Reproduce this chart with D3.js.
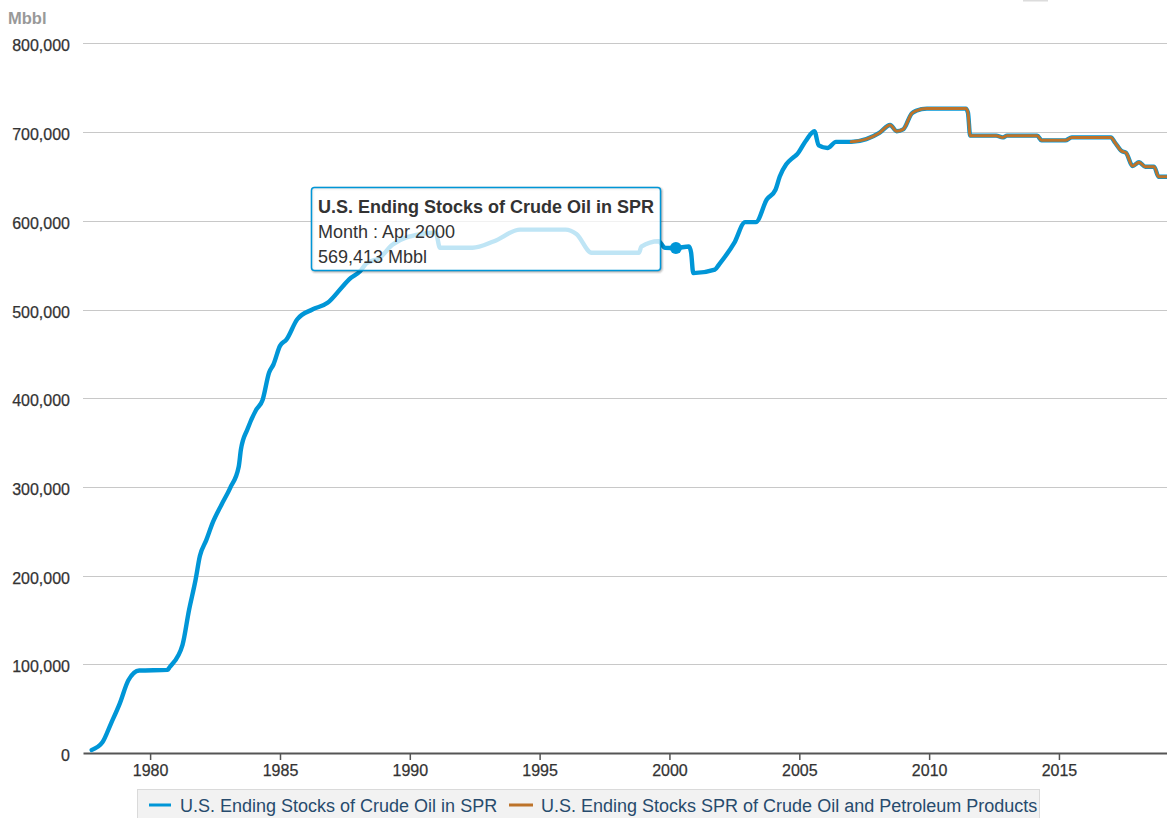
<!DOCTYPE html>
<html><head><meta charset="utf-8">
<script src="https://cdn.jsdelivr.net/npm/d3@7"></script>
<style>
body{margin:0;background:#fff;}
svg{display:block;font-family:Arial,"Liberation Sans",sans-serif;}
</style>
</head><body><svg id="chart" width="1167" height="818"></svg>
<script>
// ---- data, values in Mbbl ----
const crudeMonths = ["1977-10","1978-03","1978-07","1978-11","1979-03","1979-08","1980-09","1980-10","1981-04","1981-07","1981-10","1981-12","1982-03","1982-06","1982-10","1983-02","1983-06","1983-07","1983-10","1984-02","1984-05","1984-08","1984-10","1985-01","1985-04","1985-09","1986-04","1986-11","1987-06","1987-09","1988-02","1988-05","1988-11","1989-05","1990-06","1991-01","1991-03","1992-06","1993-04","1994-04","1996-01","1996-06","1997-01","1998-11","1998-12","1999-08","1999-11","2000-04","2000-10","2000-11","2000-12","2001-10","2001-12","2002-07","2002-12","2003-05","2003-10","2004-02","2004-04","2004-07","2004-10","2004-12","2005-04","2005-08","2005-10","2006-02","2006-06","2007-01","2007-08","2008-02","2008-07","2008-10","2009-01","2009-05","2009-07","2009-12","2011-06","2011-07","2011-08","2012-08","2012-11","2013-01","2014-03","2014-05","2015-04","2015-07","2017-01","2017-03","2017-06","2017-08","2017-11","2018-02","2018-05","2018-09","2018-11","2019-03"];
const crudeValues = [3400,12000,33500,56000,82000,93000,93700,96700,122000,161000,195000,222000,240000,260000,280000,299000,323000,342000,365000,387000,398000,429000,438000,459000,466000,489000,500000,507500,526000,534000,543000,552000,558000,573000,585000,586600,569600,569600,577000,590000,590000,585000,564000,564000,571000,577000,569600,569413,571000,564000,541000,545000,551000,575000,598500,598500,624000,635000,650000,663700,671000,675000,690000,701000,685000,682000,689000,689000,692000,699000,708000,701000,703000,721000,724000,726500,726500,722000,696000,696000,694000,696000,696000,690700,690700,694000,694000,688000,678600,676800,661700,666000,661000,661000,649700,649700];

const productMonths = ["2007-01","2007-08","2008-02","2008-07","2008-10","2009-01","2009-05","2009-07","2009-12","2011-06","2011-07","2011-08","2012-08","2012-11","2013-01","2014-03","2014-05","2015-04","2015-07","2017-01","2017-03","2017-06","2017-08","2017-11","2018-02","2018-05","2018-09","2018-11","2019-03"];
const productValues = [689000,692000,699000,708000,701000,703000,721000,724000,726500,726500,722000,696000,696000,694000,696000,696000,690700,690700,694000,694000,688000,678600,676800,661700,666000,661000,661000,649700,649700];

const seriesNames = ["U.S. Ending Stocks of Crude Oil in SPR","U.S. Ending Stocks SPR of Crude Oil and Petroleum Products"];
const seriesColors = ["#0096d7","#bd732a"];
const yTickValues = [0,100000,200000,300000,400000,500000,600000,700000,800000];
const xTickYears = [1980,1985,1990,1995,2000,2005,2010,2015];
const unitLabel = "Mbbl";
const tooltipMonth = "2000-04";
const tooltipValue = 569413;
const tooltipLines = ["U.S. Ending Stocks of Crude Oil in SPR","Month : Apr 2000","569,413 Mbbl"];

// ---- drawing ----
(function(){
const parse = d3.timeParse("%Y-%m");
const svg = d3.select("#chart");
const pLeft = 83, pRight = 1167, pTop = 43.4, pBottom = 753;

const x = d3.scaleTime().domain([new Date(1977,5,1), new Date(2019,2,1)]).range([pLeft, pRight]);
const y = d3.scaleLinear().domain([0,800000]).range([pBottom, pTop]);

// top-right cut-off button edge
svg.append("rect").attr("x",1023).attr("y",0).attr("width",25).attr("height",1.5).attr("fill","#dcdcdc");

// unit label
svg.append("text").attr("x",8).attr("y",24).attr("font-size","16.5px").attr("font-weight","bold")
  .attr("fill","#999").text(unitLabel);

// gridlines
svg.append("g").selectAll("line").data(yTickValues.filter(v=>v>0)).join("line")
  .attr("x1",pLeft).attr("x2",pRight)
  .attr("y1",d=>Math.round(y(d))+0.5).attr("y2",d=>Math.round(y(d))+0.5)
  .attr("stroke","#c8c8c8").attr("stroke-width",1.2);

// y labels
svg.append("g").selectAll("text").data(yTickValues).join("text")
  .attr("x",70).attr("y",d=>y(d)+8).attr("text-anchor","end")
  .attr("font-size","16px").attr("fill","#333").attr("stroke","#333").attr("stroke-width",0.25)
  .text(d=>d3.format(",")(d));

// x axis
const xAxis = d3.axisBottom(x)
  .tickValues(xTickYears.map(yr=>new Date(yr,0,1)))
  .tickFormat(d3.timeFormat("%Y")).tickSize(7).tickSizeOuter(0);
const gx = svg.append("g").attr("transform",`translate(0,${pBottom})`).call(xAxis);
gx.select(".domain").attr("stroke","#555").attr("stroke-width",2);
gx.selectAll(".tick line").attr("stroke","#555").attr("stroke-width",1.5);
gx.selectAll(".tick text").attr("font-size","16px").attr("fill","#333").attr("stroke","#333").attr("stroke-width",0.25)
  .attr("font-family","Arial, 'Liberation Sans', sans-serif").attr("dy",null).attr("y",23);

// lines
const line = d3.line().x(d=>x(d.date)).y(d=>y(d.value)).curve(d3.curveMonotoneX);
const crude = crudeMonths.map((m,i)=>({date:parse(m),value:crudeValues[i]}));
const prod = productMonths.map((m,i)=>({date:parse(m),value:productValues[i]}));
svg.append("path").datum(crude).attr("d",line).attr("fill","none")
  .attr("stroke",seriesColors[0]).attr("stroke-width",4.4).attr("stroke-linejoin","round").attr("stroke-linecap","round");
svg.append("path").datum(prod).attr("d",line).attr("fill","none")
  .attr("stroke",seriesColors[1]).attr("stroke-width",3).attr("stroke-linejoin","round").attr("stroke-linecap","round");

// hover marker
svg.append("circle").attr("cx",x(parse(tooltipMonth))).attr("cy",y(tooltipValue)).attr("r",6)
  .attr("fill",seriesColors[0]);

// tooltip
const tt = svg.append("g");
const tx = 311.5, ty = 187.5, tw = 349, th = 83;
[3,2,1].forEach((k,i)=>{
  tt.append("rect").attr("x",tx+1).attr("y",ty+1).attr("width",tw).attr("height",th).attr("rx",3)
    .attr("fill","none").attr("stroke","rgba(0,0,0,"+(0.05*(i+1))+")").attr("stroke-width",k*2-1);
});
tt.append("rect").attr("x",tx).attr("y",ty).attr("width",tw).attr("height",th).attr("rx",3)
  .attr("fill","rgba(255,255,255,0.75)").attr("stroke",seriesColors[0]).attr("stroke-width",1.5);
const tBase = [213,238,262.5];
tooltipLines.forEach((t,i)=>{
  tt.append("text").attr("x",318).attr("y",tBase[i]).attr("font-size","18px")
    .attr("font-weight",i===0?"bold":"normal").attr("fill","#333").text(t);
});

// legend
const lg = svg.append("g");
lg.append("rect").attr("x",137.5).attr("y",789.5).attr("width",902).attr("height",40)
  .attr("fill","#f2f2f2").attr("stroke","#dadada");
const legendX = [[149,171,180],[509,533,541]];
seriesNames.forEach((n,i)=>{
  lg.append("line").attr("x1",legendX[i][0]).attr("x2",legendX[i][1]).attr("y1",805).attr("y2",805)
    .attr("stroke",seriesColors[i]).attr("stroke-width",3);
  lg.append("text").attr("x",legendX[i][2]).attr("y",811.5).attr("font-size","18px")
    .attr("fill","#274b6d").text(n);
});
})();
</script>
</body></html>
